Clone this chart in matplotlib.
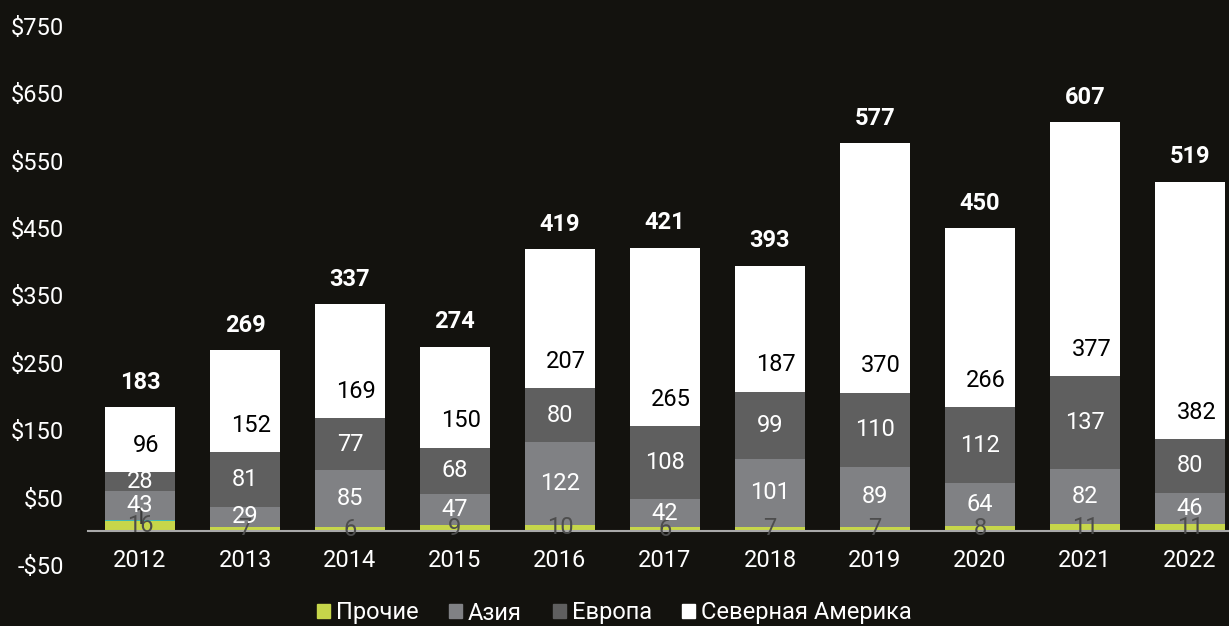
import matplotlib.pyplot as plt
from matplotlib.patches import Patch
import numpy as np

years = ['2012', '2013', '2014', '2015', '2016', '2017', '2018', '2019', '2020', '2021', '2022']
other = [16, 7, 6, 9, 10, 6, 7, 7, 8, 11, 11]
misc = [1, 0, 0, 0, 0, 0, 0, 0, 0, 0, 0]
asia = [43, 29, 85, 47, 122, 42, 101, 89, 64, 82, 46]
europe = [28, 81, 77, 68, 80, 108, 99, 110, 112, 137, 80]
north_america = [96, 152, 169, 150, 207, 265, 187, 370, 266, 377, 382]
totals = [183, 269, 337, 274, 419, 421, 393, 577, 450, 607, 519]
yticks = [-50, 50, 150, 250, 350, 450, 550, 650, 750]

bg = '#13120e'
plt.rcParams['font.family'] = ['Roboto', 'DejaVu Sans']
plt.rcParams['font.size'] = 17

fig = plt.figure(figsize=(12.29, 6.26), dpi=100, facecolor=bg)
ax = fig.add_axes([87.5 / 1229, 61 / 626, 1155 / 1229, 539 / 626], facecolor=bg)

x = np.arange(len(years))
w = 0.667
bottom = np.zeros(len(years))
series = [
    (other, '#c6d64a', '#4d4d4d', 'Прочие'),
    (misc, '#3fb6b2', '#3a3a3a', None),
    (asia, '#808184', 'white', 'Азия'),
    (europe, '#5f5f5f', 'white', 'Европа'),
    (north_america, 'white', 'black', 'Северная Америка'),
]
for vals, color, tcolor, name in series:
    vals = np.array(vals, dtype=float)
    ax.bar(x, vals, w, bottom=bottom, color=color, linewidth=0, zorder=2)
    for i, v in enumerate(vals):
        if v <= 0:
            continue
        if name == 'Северная Америка':
            # labels sit near the bottom of the white segment
            ax.text(x[i] + 0.06, bottom[i] + 40, f'{int(v)}', ha='center', va='center',
                    color=tcolor, zorder=4)
        elif name is None:
            ax.text(x[i], bottom[i] + v + 4, f'{int(v)}', ha='center', va='center',
                    color=tcolor, zorder=4)
        else:
            ax.text(x[i], bottom[i] + v / 2, f'{int(v)}', ha='center', va='center',
                    color=tcolor, zorder=4)
    bottom += vals

for i, t in enumerate(totals):
    ax.annotate(f'{t}', (x[i], bottom[i]), xytext=(0, 18), textcoords='offset points',
                ha='center', va='center', color='white', fontweight='bold', zorder=4)

ax.set_xlim(-0.5, 10.5)
ax.set_ylim(-50, 750)
ax.set_yticks(yticks)
ax.set_yticklabels([f'-${-v}' if v < 0 else f'${v}' for v in yticks])
ax.set_xticks(x)
ax.set_xticklabels(years)
ax.tick_params(axis='y', length=0, pad=17, colors='white', labelsize=17)
ax.tick_params(axis='x', length=0, pad=13, colors='white', labelsize=17)
for s in ['top', 'right', 'left']:
    ax.spines[s].set_visible(False)
ax.spines['bottom'].set_position(('data', 0))
ax.spines['bottom'].set_color('#a9a9a9')
ax.spines['bottom'].set_linewidth(1.5)
ax.spines['bottom'].set_zorder(3)

handles = [Patch(color=c, label=n) for _, c, _, n in series if n]
fig.legend(handles=handles, loc='center', bbox_to_anchor=(0.5, 13 / 626), ncol=4,
           frameon=False, labelcolor='white', fontsize=17, handlelength=0.55,
           handleheight=0.55, handletextpad=0.25, columnspacing=1.3)

fig.savefig('out.png', dpi=100, facecolor=bg)
